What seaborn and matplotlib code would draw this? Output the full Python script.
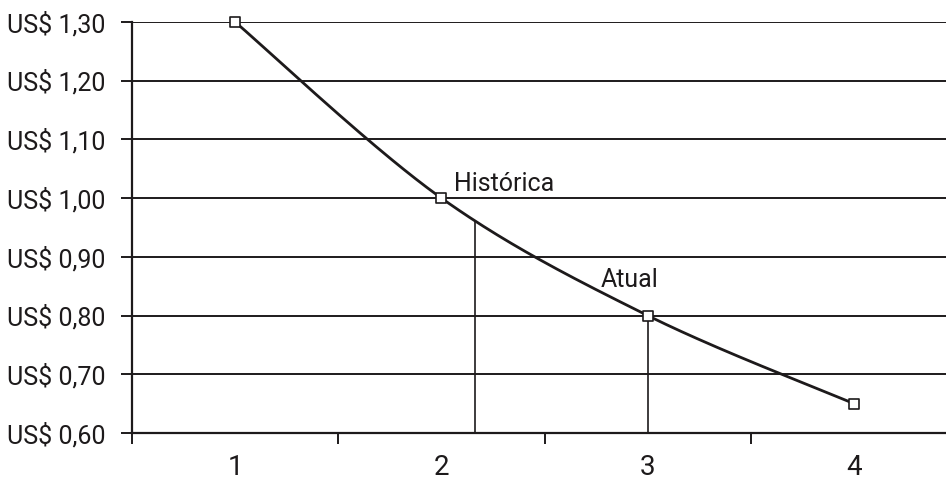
import numpy as np
import pandas as pd
import matplotlib
matplotlib.use("Agg")
import matplotlib.pyplot as plt
import seaborn as sns

# Chart data
periods = [1, 2, 3, 4]
prices = [1.30, 1.00, 0.80, 0.65]
y_ticks = [0.60, 0.70, 0.80, 0.90, 1.00, 1.10, 1.20, 1.30]
label_hist = "Histórica"
label_atual = "Atual"
hist_drop_x = 2.165   # position of the vertical marker under "Histórica"
atual_drop_x = 3.0    # position of the vertical marker under "Atual"

sns.set_theme(style="white")
plt.rcParams["font.family"] = ["Liberation Sans Narrow", "Roboto", "DejaVu Sans"]

INK = "#1d1a1b"

def smooth_curve(xs, ys, sx=206.0, sy=587.0, n=60):
    """Cardinal (Catmull-Rom) Bezier smoothing in screen-like proportions."""
    P = np.column_stack([np.asarray(xs, float) * sx, np.asarray(ys, float) * sy])
    P = np.vstack([P[0], P, P[-1]])
    out = []
    for i in range(1, len(P) - 2):
        p0, p1, p2, p3 = P[i - 1], P[i], P[i + 1], P[i + 2]
        c1 = p1 + (p2 - p0) / 6.0
        c2 = p2 - (p3 - p1) / 6.0
        t = np.linspace(0, 1, n)[:, None]
        seg = ((1 - t) ** 3) * p1 + 3 * ((1 - t) ** 2) * t * c1 + 3 * (1 - t) * t ** 2 * c2 + t ** 3 * p2
        out.append(seg if i == 1 else seg[1:])
    S = np.vstack(out)
    return S[:, 0] / sx, S[:, 1] / sy

cx, cy = smooth_curve(periods, prices)
curve = pd.DataFrame({"x": cx, "y": cy})
pts = pd.DataFrame({"x": periods, "y": prices})

fig = plt.figure(figsize=(9.46, 4.80), dpi=100)
ax = fig.add_axes([132 / 946, 1 - 433 / 480, (946 - 132) / 946, (433 - 22) / 480])

# Horizontal gridlines
for v in y_ticks[1:]:
    ax.axhline(v, color=INK, lw=1.4, zorder=1)

# Vertical drop lines from the curve to the axis
for dx in (hist_drop_x, atual_drop_x):
    top = np.interp(dx, cx, cy)
    ax.plot([dx, dx], [y_ticks[0], top], color=INK, lw=1.2, zorder=1)

sns.lineplot(data=curve, x="x", y="y", ax=ax, color=INK, lw=2.0, sort=False, zorder=3,
             clip_on=False)
sns.scatterplot(data=pts, x="x", y="y", ax=ax, marker="s", s=55, facecolor="white",
                edgecolor=INK, linewidth=1.2, zorder=5, clip_on=False)

ax.text(periods[1] + 0.06, prices[1] + 0.024, label_hist, fontsize=18, color=INK,
        ha="left", va="center")
ax.text(periods[2] - 0.23, prices[2] + 0.06, label_atual, fontsize=18, color=INK,
        ha="left", va="center")

ax.set_yticks(y_ticks)
ax.set_yticklabels(["US$ " + f"{v:.2f}".replace(".", ",") for v in y_ticks])

# Category labels at centres, tick marks at category boundaries
ax.set_xticks(periods)
ax.set_xticklabels([str(p) for p in periods])
ax.set_xticks([0.5, 1.5, 2.5, 3.5], minor=True)
ax.tick_params(axis="x", which="major", length=0, pad=15, labelsize=20, colors=INK)
ax.tick_params(axis="x", which="minor", length=8, width=1.4, direction="out", color=INK, bottom=True)
ax.tick_params(axis="y", which="major", length=8, width=1.4, direction="out", color=INK,
               labelsize=18, labelcolor=INK, pad=11, left=True)

ax.set_xlim(0.5, 0.5 + (946 - 132) / 206.3)
ax.set_ylim(y_ticks[0], y_ticks[-1])

for side in ("top", "right"):
    ax.spines[side].set_visible(False)
for side in ("left", "bottom"):
    ax.spines[side].set_color(INK)
    ax.spines[side].set_linewidth(1.6)

ax.set_xlabel("")
ax.set_ylabel("")
fig.savefig("out.png", dpi=100, facecolor="white")
